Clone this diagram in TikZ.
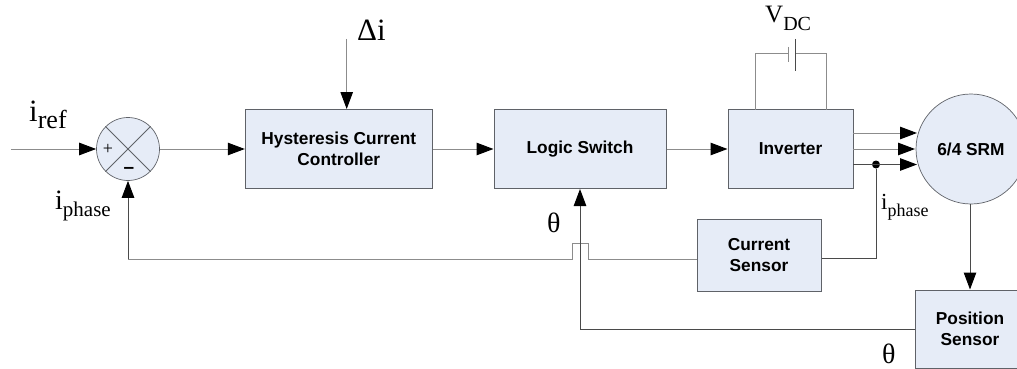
\documentclass[tikz,border=0pt]{standalone}
\usepackage{fontspec}
\usetikzlibrary{arrows.meta,calc}
\setmainfont{Liberation Serif}
\newfontfamily\boxfont{Liberation Sans}
\newcommand{\sublab}[4]{{\fontsize{#1}{#1}\selectfont #3}\raisebox{-7.3pt}{\fontsize{#2}{#2}\selectfont #4}}
\definecolor{boxfill}{HTML}{E6ECF7}
\definecolor{boxline}{HTML}{5F6268}
\definecolor{wirelt}{HTML}{8C8C8C}
\definecolor{wiredk}{HTML}{4A4A4A}
\tikzset{
  x=1pt,y=-1pt,
  blockbox/.style={draw=boxline,fill=boxfill,line width=1pt,inner sep=0pt,align=center,font=\boxfont\bfseries\fontsize{17.3}{21}\selectfont},
  wire/.style={draw=wirelt,line width=1pt},
  darkwire/.style={draw=wiredk,line width=1pt},
  tip/.style={-{Triangle[length=17pt,width=12.5pt,fill=black,color=black]}},
  lab/.style={inner sep=0pt,font=\fontsize{31}{31}\selectfont,text=black},
}
\begin{document}
\begin{tikzpicture}
\useasboundingbox (0,0) rectangle (1017,369);
% blocks
\node[blockbox,minimum width=187pt,minimum height=79pt] (hcc) at (338.8,149) {Hysteresis Current\\Controller};
\node[blockbox,minimum width=172pt,minimum height=79pt] (logic) at (580,149) {Logic Switch};
\node[blockbox,minimum width=125pt,minimum height=79pt] (inv) at (790.5,149) {Inverter};
\node[blockbox,minimum width=124pt,minimum height=72pt] (cs) at (759,255) {Current\\Sensor};
\node[blockbox,minimum width=110pt,minimum height=78pt] (ps) at (970,329) {Position\\Sensor};
\node[blockbox,circle,minimum size=110pt,line width=0.7pt] (srm) at (971,149) {6/4 SRM};
\node[draw=boxline,fill=boxfill,line width=0.7pt,circle,minimum size=63pt,inner sep=0pt] (sum) at (128,149) {};
\draw[draw=boxline,line width=0.8pt] (sum.45) -- (sum.225) (sum.135) -- (sum.315);
\node[inner sep=0pt,font=\fontsize{18}{18}\selectfont] (plus) at (108,149.5) {+};
\node[inner sep=0pt,font=\boxfont\bfseries\fontsize{19}{19}\selectfont] (minus) at (129,170) {–};
% coordinates
\coordinate (inp) at (11,149);
\coordinate (di) at (346.7,39);
\coordinate (fbc) at (128,259);
\coordinate (j1) at (572,259);
\coordinate (j2) at (572,243);
\coordinate (j3) at (588,243);
\coordinate (j4) at (588,259);
\coordinate (th1) at (580,329.5);
\coordinate (batL) at (788,54);
\coordinate (batR) at (795,54);
\coordinate (invL) at (755,109.5);
\coordinate (invR) at (826,109.5);
\coordinate (batLc) at (755,54);
\coordinate (batRc) at (826,54);
\coordinate (o1a) at (853,133);
\coordinate (o1b) at (917,133);
\coordinate (o2a) at (853,149);
\coordinate (o2b) at (915,149);
\coordinate (o3a) at (853,164.5);
\coordinate (o3b) at (917,164.5);
\node[circle,fill=black,minimum size=8pt,inner sep=0pt] (dot) at (876,164.5) {};
\coordinate (csr) at (876,258);
% connectors
\draw[wire,tip] (inp) -- (sum.west);
\draw[wire,tip] (sum.east) -- (hcc.west);
\draw[wire,tip] (hcc.east) -- (logic.west);
\draw[wire,tip] (logic.east) -- (inv.west);
\draw[wire,tip] (di) -- (di |- hcc.north);
\draw[wire] (cs.west |- j4) -- (j4) -- (j3) -- (j2) -- (j1) -- (fbc);
\draw[darkwire,tip,shorten >=0pt] (fbc) -- (sum.south);
\draw[darkwire,tip] (ps.west |- th1) -- (th1) -- (th1 |- logic.south);
\draw[wire,tip] (o1a) -- (o1b);
\draw[wire,tip] (o2a) -- (o2b);
\draw[darkwire,tip] (o3a) -- (o3b);
\draw[darkwire] (dot) -- (csr) -- (cs.east |- csr);
\draw[darkwire,tip] (ps.north |- srm.south) -- (ps.north);
\draw[wire] (invL) -- (batLc) -- (batL);
\draw[wire] (invR) -- (batRc) -- (batR);
\draw[wire] (788,47) -- (788,62);
\draw[darkwire] (795,39) -- (795,71);
% labels
\node[lab,anchor=base west] (iref) at (29,121) {\sublab{31}{26}{i}{ref}};
\node[lab,anchor=base west] (ip1) at (55,209) {\sublab{28}{21}{i}{phase}};
\node[lab,anchor=base west] (delta) at (357,41) {Δi};
\node[lab,anchor=base west,font=\fontsize{28}{28}\selectfont] (theta1) at (547,232) {θ};
\node[lab,anchor=base west] (vdc) at (765,23) {\sublab{25}{20}{V}{DC}};
\node[lab,anchor=base west] (ip2) at (881,209) {\sublab{23}{18}{i}{phase}};
\node[lab,anchor=base west,font=\fontsize{28}{28}\selectfont] (theta2) at (882,363) {θ};
\end{tikzpicture}
\end{document}
